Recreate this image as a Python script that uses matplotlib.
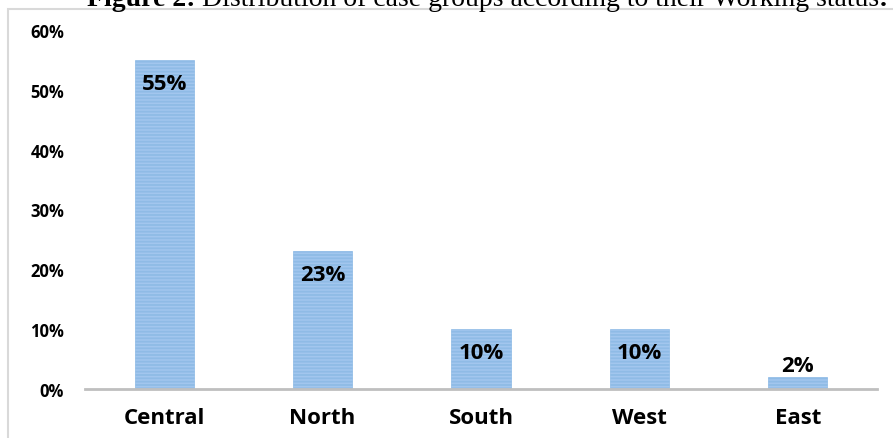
import matplotlib.pyplot as plt
from matplotlib.patches import Rectangle

regions = ["Central", "North", "South", "West", "East"]
shares = [0.55, 0.23, 0.10, 0.10, 0.02]
share_labels = ["55%", "23%", "10%", "10%", "2%"]
y_ticks = [0.0, 0.1, 0.2, 0.3, 0.4, 0.5, 0.6]
y_tick_labels = ["0%", "10%", "20%", "30%", "40%", "50%", "60%"]

plt.rcParams["hatch.linewidth"] = 1.3
plt.rcParams["hatch.color"] = "#4d8dd4"

fig = plt.figure(figsize=(8.93, 4.39), dpi=100)
ax = fig.add_axes([85 / 893, 1 - 390 / 439, 792 / 893, 359 / 439])

x = range(len(regions))
bars = ax.bar(x, shares, width=0.375, color="#a2c6ee", edgecolor="#8fbbe6",
              linewidth=0.5, hatch="-----")

# labels sit inside the bar top, small bars get them above
for i, (v, lab) in enumerate(zip(shares, share_labels)):
    off = -17 if v > 0.05 else 8
    ax.annotate(lab, (i, v), xytext=(0, off), textcoords="offset points",
                ha="center", va="center", fontsize=16, fontweight="bold",
                family="Open Sans", color="black")

ax.set_xlim(-0.5, 4.5)
ax.set_ylim(0, 0.6)
ax.set_yticks(y_ticks)
ax.set_yticklabels(y_tick_labels, fontsize=12, fontweight="bold", family="Open Sans")
ax.set_xticks(list(x))
ax.set_xticklabels(regions, fontsize=16, fontweight="bold", family="Open Sans")
ax.tick_params(axis="y", length=0, pad=15)
ax.tick_params(axis="x", length=0, pad=13)
for side in ["top", "right", "left"]:
    ax.spines[side].set_visible(False)
ax.spines["bottom"].set_color("#bfbfbf")
ax.spines["bottom"].set_linewidth(2)

# chart frame
fig.patches.append(Rectangle((8 / 893, -0.1), 1.1, 1 - 9.5 / 439 + 0.1,
                             transform=fig.transFigure, fill=False,
                             edgecolor="#d9d9d9", linewidth=1.5))

# caption sits half outside the top edge, as in the source scan
cap_y = 1 - 6 / 439
cap_kw = dict(va="baseline", fontsize=20, family="Liberation Serif")
parts = [("Figure 2:", "bold"),
         (" Distribution of case groups according to their Working status", "normal"),
         (".", "bold")]
texts = [fig.text(0, cap_y, s, fontweight=w, **cap_kw) for s, w in parts]
r = fig.canvas.get_renderer()
widths = [t.get_window_extent(r).width / fig.bbox.width for t in texts]
xpos = 0.545 - sum(widths) / 2
for t, w in zip(texts, widths):
    t.set_x(xpos)
    xpos += w

plt.savefig("out.png", dpi=100)
